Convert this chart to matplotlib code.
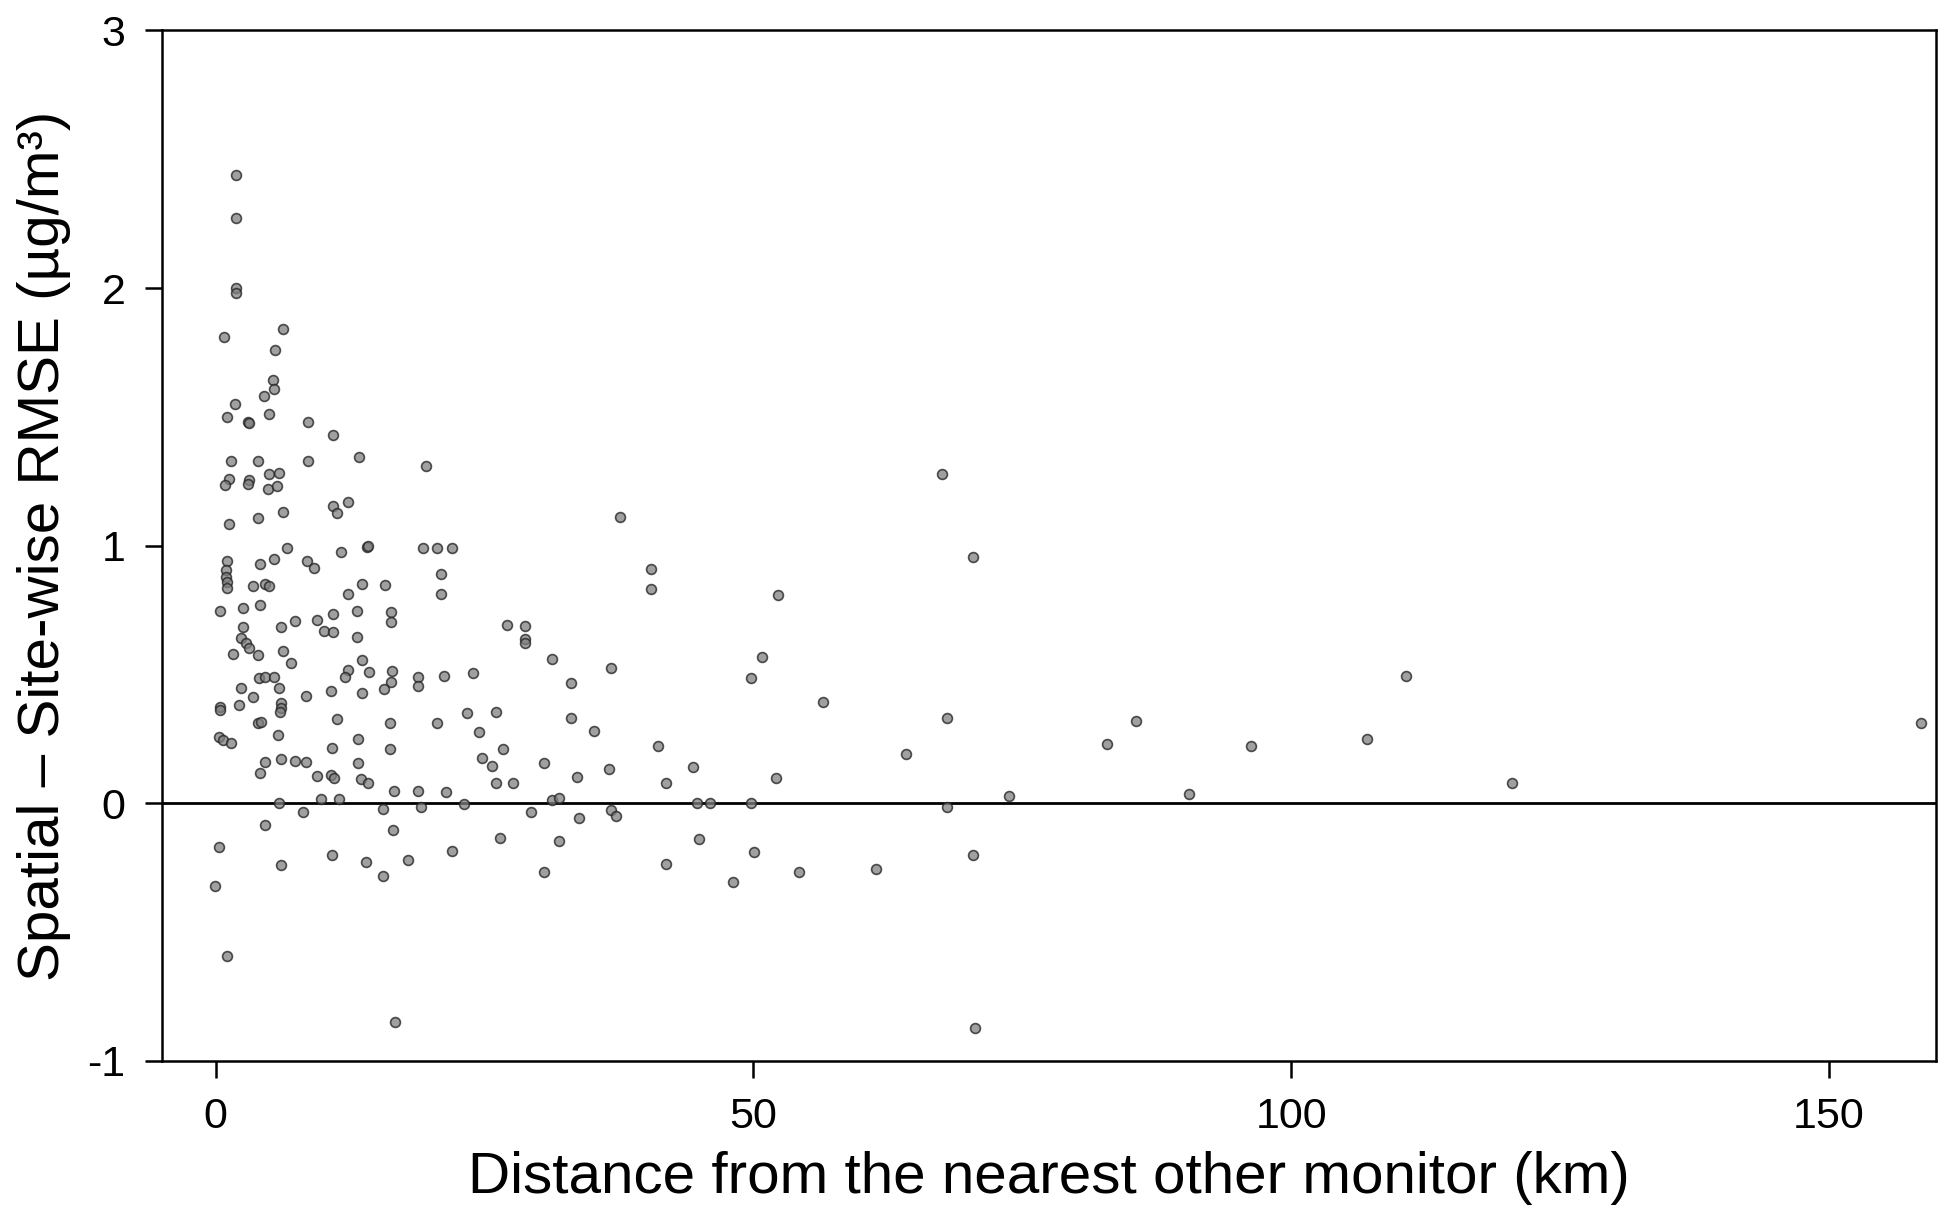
import matplotlib
matplotlib.use("Agg")
import matplotlib.pyplot as plt

plt.rcParams["font.family"] = ["Liberation Sans", "DejaVu Sans"]
plt.rcParams["axes.unicode_minus"] = False

# distance to nearest other monitor (km)
dist = [
    1.89, 1.89, 1.89, 1.89, 0.8, 6.3, 5.5, 5.3, 5.45, 4.5, 1.82, 1.1, 2.97, 3.1,
    5.0, 8.6, 10.96, 13.35, 19.55, 1.42, 3.9, 8.6, 4.98, 5.9,
    1.2, 0.9, 3.06, 2.97, 4.9, 5.75, 10.87, 11.3, 12.35, 1.26, 3.9, 6.3, 6.6,
    11.7, 14.06, 14.2, 19.3, 20.6, 22.0, 1.1, 0.96, 1.0, 1.1, 1.1, 4.1, 5.45,
    8.54, 9.17, 3.43, 4.6, 4.98, 13.65, 15.77, 12.35, 21.0, 21.0, 0.43, 2.5,
    4.15, 13.13, 16.35, 16.35, 10.87, 2.5, 6.07, 7.4, 9.38, 10.1, 10.87, 13.13,
    2.35, 2.8, 3.06, 1.57, 3.96, 6.3, 7.0, 13.65, 12.35, 12.0, 14.28, 16.4,
    16.3, 15.67, 18.86, 18.86, 21.25, 4.05, 4.6, 5.45, 5.85, 2.35, 3.43, 8.4,
    10.7, 13.65, 0.43, 0.43, 2.2, 6.07, 6.07, 6.0, 3.9, 4.2, 11.3, 16.2, 20.6,
    5.8, 0.33, 0.64, 1.42, 13.2, 10.8, 16.2, 4.6, 6.07, 7.4, 8.4, 13.2, 4.15,
    9.47, 10.7, 11.0, 13.5, 14.2,
    16.6, 18.86, 21.4, 5.9, 9.79, 11.5, 8.08, 15.6, 19.08, 4.6, 16.5, 0.33,
    6.07, 10.78, 13.97, 15.6, 17.9, 22.0, -0.04, 1.1, 16.67,
    37.6, 40.47, 40.47, 27.1, 28.8, 28.8, 28.8, 31.3, 36.8, 33.0, 23.9, 23.4,
    26.06, 33.0,
    24.5, 35.2, 26.7, 24.8, 25.7, 30.55, 33.6, 36.6, 26.06, 27.67, 41.1, 44.4,
    41.9, 23.1, 29.3, 31.3, 31.9, 33.8, 36.75, 37.2, 44.8, 46.0, 26.4, 31.9,
    30.55, 44.9, 41.9, 48.1,
    67.5, 70.4, 52.3, 50.8, 49.8, 56.5, 68.0, 64.2, 52.1, 49.8, 68.0, 73.8,
    50.1, 54.25, 61.4, 70.4, 70.6,
    82.9, 85.6, 90.5, 96.3, 107.1, 110.7, 120.5, 158.6,
]

# spatial minus site-wise RMSE (ug/m3)
drmse = [
    2.44, 2.27, 2.00, 1.98, 1.81, 1.84, 1.76, 1.645, 1.61, 1.58, 1.55, 1.50,
    1.48, 1.475, 1.51, 1.48, 1.43, 1.345, 1.31, 1.33, 1.33, 1.33, 1.28, 1.283,
    1.26, 1.235, 1.255, 1.24, 1.22, 1.23, 1.154, 1.125, 1.17, 1.086, 1.106,
    1.13, 0.99, 0.974, 0.996, 1.0, 0.99, 0.99, 0.99, 0.94, 0.905, 0.88, 0.86,
    0.834, 0.93, 0.947, 0.94, 0.914, 0.845, 0.85, 0.843, 0.851, 0.847, 0.811,
    0.89, 0.812, 0.748, 0.76, 0.77, 0.748, 0.741, 0.703, 0.733, 0.685, 0.685,
    0.707, 0.711, 0.67, 0.666, 0.644, 0.64, 0.621, 0.604, 0.578, 0.576, 0.591,
    0.546, 0.556, 0.517, 0.491, 0.508, 0.515, 0.472, 0.443, 0.489, 0.457,
    0.494, 0.485, 0.491, 0.489, 0.446, 0.449, 0.411, 0.417, 0.436, 0.43,
    0.375, 0.362, 0.382, 0.388, 0.369, 0.353, 0.31, 0.317, 0.326, 0.313,
    0.313, 0.265, 0.259, 0.246, 0.235, 0.249, 0.214, 0.21, 0.162, 0.171,
    0.166, 0.159, 0.158, 0.117, 0.106, 0.11, 0.097, 0.093, 0.08,
    0.049, 0.049, 0.045, 0.0, 0.016, 0.016, -0.032, -0.023, -0.013, -0.084,
    -0.103, -0.168, -0.239, -0.2, -0.226, -0.284, -0.22, -0.186, -0.32,
    -0.592, -0.847,
    1.112, 0.908, 0.83, 0.692, 0.689, 0.637, 0.623, 0.559, 0.526, 0.468,
    0.507, 0.349, 0.356, 0.33,
    0.278, 0.281, 0.21, 0.175, 0.145, 0.156, 0.104, 0.133, 0.078, 0.078,
    0.223, 0.142, 0.078, -0.004, -0.032, 0.013, 0.02, -0.058, -0.026, -0.049,
    0.0, 0.0, -0.135, -0.145, -0.265, -0.138, -0.236, -0.304,
    1.279, 0.957, 0.809, 0.566, 0.487, 0.393, 0.332, 0.19, 0.099, 0.0,
    -0.014, 0.027, -0.19, -0.267, -0.256, -0.202, -0.871,
    0.230, 0.321, 0.035, 0.223, 0.249, 0.494, 0.078, 0.313,
]

xticks = [0, 50, 100, 150]
yticks = [-1, 0, 1, 2, 3]

fig = plt.figure(figsize=(19.5, 12.16), dpi=100)
ax = fig.add_axes([0.083, 0.1275, 0.910, 0.8475])

ax.axhline(0, color="black", lw=2, zorder=1)
ax.scatter(dist, drmse, s=50, facecolor=(0.5, 0.5, 0.5, 0.75),
           edgecolor=(0.15, 0.15, 0.15, 0.8), linewidths=1.2, zorder=2)

ax.set_xlim(-5, 160)
ax.set_ylim(-1, 3)
ax.set_xticks(xticks)
ax.set_yticks(yticks)
ax.tick_params(direction="out", length=12, width=1.8, labelsize=31, pad=14)

for sp in ax.spines.values():
    sp.set_linewidth(1.8)

ax.set_xlabel("Distance from the nearest other monitor (km)", fontsize=42, labelpad=10)
ax.set_ylabel("Spatial \u2013 Site-wise RMSE (\u00b5g/m\u00b3)", fontsize=42, labelpad=12)

fig.savefig("out.png", dpi=100)
